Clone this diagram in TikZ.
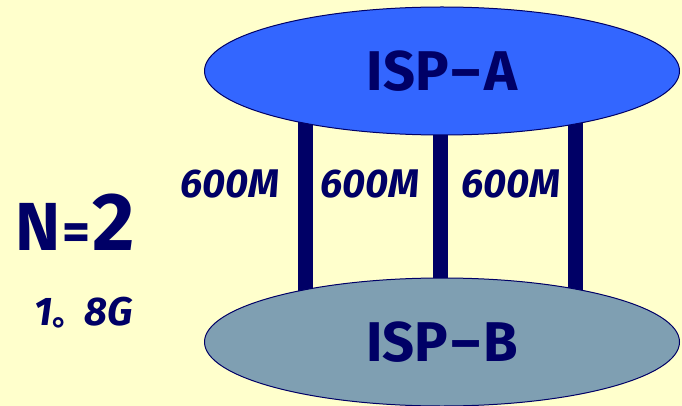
\documentclass[tikz,border=0pt]{standalone}
\usepackage{fontspec}
\usepackage{tikz}
\usetikzlibrary{shapes.geometric}
\setmainfont{Fira Sans}
\newfontfamily\cjk{Noto Sans CJK SC}

\definecolor{paper}{RGB}{255,255,204}
\definecolor{ink}{RGB}{0,0,102}
\definecolor{ispblue}{RGB}{51,102,255}
\definecolor{ispgrey}{RGB}{127,159,178}

\pgfdeclarelayer{back}
\pgfdeclarelayer{links}
\pgfsetlayers{back,links,main}

\begin{document}
\begin{tikzpicture}[x=1pt,y=-1pt,
    isp/.style={ellipse, draw=ink, line width=1pt, minimum width=475pt, minimum height=128pt,
        text=ink, font=\fontsize{56}{56}\selectfont\bfseries},
    trunk/.style={draw=ink, line width=15pt},
    rate/.style={text=ink, font=\fontsize{40}{40}\selectfont\bfseries\itshape}]

        % Background
        \begin{pgfonlayer}{back}
            \fill[paper] (0,0) rectangle (682,406);
        \end{pgfonlayer}
        \useasboundingbox (0,0) rectangle (682,406);

        % The two providers
        \node[isp, fill=ispblue] (ispA) at (442,71) {ISP\kern3pt–\kern3pt A};
        \node[isp, fill=ispgrey] (ispB) at (442,342) {ISP\kern3pt–\kern3pt B};

        % Links between the providers
        \begin{pgfonlayer}{links}
            \foreach \dx in {-137,-2,133}
                \draw[trunk] ([xshift=\dx pt]ispA.center) -- ([xshift=\dx pt]ispB.center);
        \end{pgfonlayer}

        % Link rates
        \node[rate] (rate-1) at (230,184) {600M};
        \node[rate] (rate-2) at (370,184) {600M};
        \node[rate] (rate-3) at (511,184) {600M};

        % Totals
        \node[text=ink, font=\fontsize{68}{68}\selectfont\bfseries] (count) at (75,222)
            {N{\fontsize{54}{54}\selectfont\kern2pt=\kern2pt}{\fontsize{82}{82}\selectfont 2}};
        \node[text=ink, font=\fontsize{40}{40}\selectfont\bfseries\itshape] (total) at (84,313)
            {1{\cjk\fontsize{32}{32}\selectfont 。}8G};

\end{tikzpicture}
\end{document}
